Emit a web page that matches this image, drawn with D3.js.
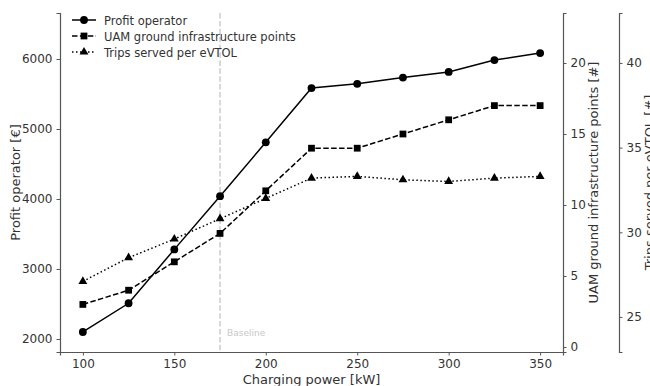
<!DOCTYPE html>
<html>
<head>
<meta charset="utf-8">
<script src="https://cdn.jsdelivr.net/npm/d3@7"></script>
<style>
  body { margin: 0; background: #fff; }
  text { font-family: "DejaVu Sans", sans-serif; fill: #333; }
  .label { font-size: 13px; }
  .legends text { font-size: 11.5px; }
</style>
</head>
<body>
<script>
var width = 650, height = 386;

// data
var power = [100, 125, 150, 175, 200, 225, 250, 275, 300, 325, 350];
var profit = [2100, 2510, 3280, 4040, 4810, 5585, 5645, 5735, 5815, 5985, 6085];
var points = [3, 4, 6, 8, 11, 14, 14, 15, 16, 17, 17];
var trips = [27.1, 28.5, 29.6, 30.8, 32.0, 33.2, 33.3, 33.1, 33.0, 33.2, 33.3];
var xTicks = [100, 150, 200, 250, 300, 350];
var profitTicks = [2000, 3000, 4000, 5000, 6000];
var pointTicks = [0, 5, 10, 15, 20];
var tripTicks = [25, 30, 35, 40];
var baseline = 175;

var svg = d3.select("body").append("svg")
            .attr("width", width).attr("height", height);

var plotLeft = 60, plotRight = 563, plotTop = 13, plotBottom = 352;

var x = d3.scaleLinear().domain([87.5, 362.5]).range([plotLeft, plotRight]);
var y1 = d3.scaleLinear().domain([1814, 6657]).range([plotBottom, plotTop]);
var y2 = d3.scaleLinear().domain([-0.35, 23.52]).range([plotBottom, plotTop]);
var y3 = d3.scaleLinear().domain([22.93, 42.95]).range([plotBottom, plotTop]);

function styleAxis(g) {
    g.selectAll(".domain").attr("stroke", "#555").attr("stroke-width", 1.2);
    g.selectAll(".tick line").attr("stroke", "#555");
}

svg.append("g").attr("transform", "translate(0," + plotBottom + ")")
   .call(d3.axisBottom(x).tickValues(xTicks).tickSizeOuter(0).tickSize(3.5).tickPadding(4))
   .call(styleAxis);
svg.append("g").attr("transform", "translate(" + plotLeft + ",0)")
   .call(d3.axisLeft(y1).tickValues(profitTicks).tickFormat(d3.format("d")).tickSizeOuter(0).tickSize(3.5).tickPadding(4))
   .call(styleAxis);
svg.append("g").attr("transform", "translate(" + plotRight + ",0)")
   .call(d3.axisRight(y2).tickValues(pointTicks).tickSizeOuter(0).tickSize(3.5).tickPadding(4))
   .call(styleAxis);
svg.append("g").attr("transform", "translate(619,0)")
   .call(d3.axisRight(y3).tickValues(tripTicks).tickSizeOuter(0).tickSize(3.5).tickPadding(4))
   .call(styleAxis);
svg.selectAll(".tick text").attr("fill", "#333").attr("font-family", "DejaVu Sans").attr("font-size", 12);

// baseline marker
svg.append("line").attr("x1", x(baseline)).attr("x2", x(baseline))
   .attr("y1", plotTop).attr("y2", plotBottom)
   .attr("stroke", "#ccc").attr("stroke-width", 1.5).attr("stroke-dasharray", "5.5,2.4");
svg.append("text").attr("x", x(baseline) + 7).attr("y", 336)
   .style("font-size", "9px").style("fill", "#c8c8c8").text("Baseline");

// axis labels
svg.append("text").classed("label", true).attr("text-anchor", "middle")
   .attr("x", x(225)).attr("y", 384).text("Charging power [kW]");
svg.append("text").classed("label", true).attr("text-anchor", "middle")
   .attr("transform", "translate(20," + (plotTop + plotBottom) / 2 + ") rotate(-90)").text("Profit operator [€]");
svg.append("text").classed("label", true).attr("text-anchor", "middle")
   .attr("transform", "translate(598," + (plotTop + plotBottom) / 2 + ") rotate(-90)").text("UAM ground infrastructure points [#]");
svg.append("text").classed("label", true).attr("text-anchor", "middle")
   .attr("transform", "translate(654," + (plotTop + plotBottom) / 2 + ") rotate(-90)").text("Trips served per eVTOL [#]");

var series = [
    {name: "Profit operator", values: profit, scale: y1, dash: null, marker: d3.symbolCircle, size: 48},
    {name: "UAM ground infrastructure points", values: points, scale: y2, dash: "5.5,2.4", marker: d3.symbolSquare, size: 46},
    {name: "Trips served per eVTOL", values: trips, scale: y3, dash: "1.5,2.5", marker: d3.symbolTriangle, size: 34}
];

series.forEach(function(s) {
    var line = d3.line()
        .x(function(d, i) { return x(power[i]); })
        .y(function(d) { return s.scale(d); });
    svg.append("path").datum(s.values).attr("d", line)
       .attr("fill", "none").attr("stroke", "#000").attr("stroke-width", 1.5)
       .attr("stroke-dasharray", s.dash);
    svg.append("g").selectAll("path").data(s.values).enter().append("path")
       .attr("d", d3.symbol().type(s.marker).size(s.size))
       .attr("transform", function(d, i) { return "translate(" + x(power[i]) + "," + s.scale(d) + ")"; })
       .attr("fill", "#000");
});

// legend
var legend = svg.append("g").attr("transform", "translate(72,20)").selectAll(".legends").data(series)
    .enter().append("g").classed("legends", true)
    .attr("transform", function(d, i) { return "translate(0," + i * 16 + ")"; });
legend.append("line").attr("x1", 0).attr("x2", 24).attr("y1", 0).attr("y2", 0)
      .attr("stroke", "#000").attr("stroke-width", 1.5)
      .attr("stroke-dasharray", function(d) { return d.dash; });
legend.append("path").attr("transform", "translate(12,0)")
      .attr("d", function(d) { return d3.symbol().type(d.marker).size(d.size)(); })
      .attr("fill", "#000");
legend.append("text").attr("x", 32).attr("y", 4.5)
      .text(function(d) { return d.name; });
</script>
</body>
</html>
